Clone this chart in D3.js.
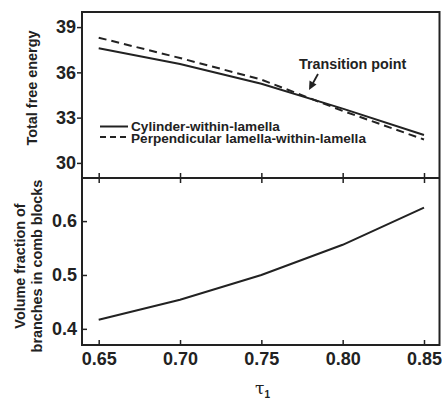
<!DOCTYPE html>
<html>
<head>
<meta charset="utf-8">
<script src="https://cdn.jsdelivr.net/npm/d3@7"></script>
<style>
  body { margin: 0; background: #fff; }
  text { font-family: "Liberation Sans", Arial, sans-serif; font-weight: bold; fill: #222; }
</style>
</head>
<body>
<svg id="canvas"></svg>
<script>
// data
let tau = [0.65, 0.70, 0.75, 0.80, 0.85]
let energyCylinder = [37.6, 36.55, 35.25, 33.6, 31.85]
let energyPerp = [38.3, 36.95, 35.52, 33.45, 31.55]
let volFraction = [0.417, 0.454, 0.500, 0.556, 0.625]

let xTicks = [0.65, 0.70, 0.75, 0.80, 0.85]
let energyTicks = [30, 33, 36, 39]
let fractionTicks = [0.4, 0.5, 0.6]

let width = 442
let height = 402
let plotLeft = 82
let plotRight = 439.5
let plotTop = 12
let plotMid = 178
let plotBottom = 345
let ink = "#222"

let svg = d3.select("#canvas")
    .attr("width", width)
    .attr("height", height)

let xScale = d3.scaleLinear().domain([0.65, 0.85]).range([98.7, 424])
let yTop = d3.scaleLinear().domain([29, 40]).range([plotMid, plotTop])
let yBot = d3.scaleLinear().domain([0.37, 0.68]).range([plotBottom, plotMid])

// frames
svg.append("rect")
    .attr("x", plotLeft).attr("y", plotTop)
    .attr("width", plotRight - plotLeft).attr("height", plotBottom - plotTop)
    .attr("fill", "none").attr("stroke", ink).attr("stroke-width", 2)

// top panel y axis (outward ticks)
let yAxisTop = d3.axisLeft(yTop).tickValues(energyTicks).tickSize(5).tickPadding(1)
svg.append("g")
    .attr("transform", "translate(" + plotLeft + ",0)")
    .call(yAxisTop)
    .call(g => g.select(".domain").remove())
    .call(g => g.selectAll("text").style("font-size", "18px"))

// bottom panel y axis (inward ticks)
let yAxisBot = d3.axisLeft(yBot).tickValues(fractionTicks).tickFormat(d3.format(".1f")).tickSize(-5).tickPadding(5)
svg.append("g")
    .attr("transform", "translate(" + plotLeft + ",0)")
    .call(yAxisBot)
    .call(g => g.select(".domain").remove())
    .call(g => g.selectAll("text").style("font-size", "18px"))

// middle divider with crossing ticks
svg.append("g")
    .attr("transform", "translate(0," + plotMid + ")")
    .call(d3.axisBottom(xScale).tickValues(xTicks).tickSize(5).tickFormat(""))
    .call(g => g.select(".domain").remove())
svg.append("g")
    .attr("transform", "translate(0," + plotMid + ")")
    .call(d3.axisTop(xScale).tickValues(xTicks).tickSize(5).tickFormat(""))
    .call(g => g.select(".domain").remove())
svg.append("line")
    .attr("x1", plotLeft).attr("x2", plotRight)
    .attr("y1", plotMid).attr("y2", plotMid)
    .attr("stroke", ink).attr("stroke-width", 2)

// bottom x axis (inward ticks)
svg.append("g")
    .attr("transform", "translate(0," + plotBottom + ")")
    .call(d3.axisBottom(xScale).tickValues(xTicks).tickFormat(d3.format(".2f")).tickSize(-5).tickPadding(7))
    .call(g => g.select(".domain").remove())
    .call(g => g.selectAll("text").style("font-size", "18px"))

svg.selectAll(".tick line").attr("stroke", ink).attr("stroke-width", 1.5)

// lines
let lineTop = (vals) => d3.line()
    .x((d, i) => xScale(tau[i]))
    .y((d) => yTop(d))(vals)

svg.append("path")
    .attr("d", lineTop(energyCylinder))
    .attr("fill", "none").attr("stroke", ink).attr("stroke-width", 2)

svg.append("path")
    .attr("d", lineTop(energyPerp))
    .attr("fill", "none").attr("stroke", ink).attr("stroke-width", 2)
    .attr("stroke-dasharray", "8,5")

svg.append("path")
    .attr("d", d3.line().x((d, i) => xScale(tau[i])).y((d) => yBot(d))(volFraction))
    .attr("fill", "none").attr("stroke", ink).attr("stroke-width", 2)

// legend
svg.append("line")
    .attr("x1", 100).attr("x2", 128).attr("y1", 126.5).attr("y2", 126.5)
    .attr("stroke", ink).attr("stroke-width", 2)
svg.append("line")
    .attr("x1", 100).attr("x2", 128).attr("y1", 137).attr("y2", 137)
    .attr("stroke", ink).attr("stroke-width", 2).attr("stroke-dasharray", "6,4")
svg.append("text").attr("x", 131).attr("y", 131)
    .style("font-size", "13.6px").text("Cylinder-within-lamella")
svg.append("text").attr("x", 131).attr("y", 142.5)
    .style("font-size", "13.6px").text("Perpendicular lamella-within-lamella")

// transition point annotation
svg.append("text").attr("x", 299).attr("y", 69)
    .style("font-size", "14.3px").text("Transition point")
svg.append("line")
    .attr("x1", 318).attr("y1", 74).attr("x2", 313).attr("y2", 83)
    .attr("stroke", ink).attr("stroke-width", 1.8)
svg.append("path")
    .attr("d", "M309,90 L309.5,80.5 L316.5,84.5 Z")
    .attr("fill", ink)

// axis titles
svg.append("text")
    .attr("transform", "translate(37,88) rotate(-90)")
    .attr("text-anchor", "middle")
    .style("font-size", "14.4px").text("Total free energy")
svg.append("text")
    .attr("transform", "translate(25,266) rotate(-90)")
    .attr("text-anchor", "middle")
    .style("font-size", "14.4px").text("Volume fraction of")
svg.append("text")
    .attr("transform", "translate(42,266) rotate(-90)")
    .attr("text-anchor", "middle")
    .style("font-size", "14.4px").text("branches in comb blocks")

let xt = svg.append("text")
    .attr("x", 255).attr("y", 394)
    .style("font-family", "'DejaVu Serif', serif")
    .style("font-weight", "normal")
    .style("font-size", "17px")
xt.append("tspan").text("τ")
xt.append("tspan").attr("dy", 4).style("font-size", "10px")
    .style("font-family", "'Liberation Sans', Arial, sans-serif").style("font-weight", "bold").text("1")
</script>
</body>
</html>
